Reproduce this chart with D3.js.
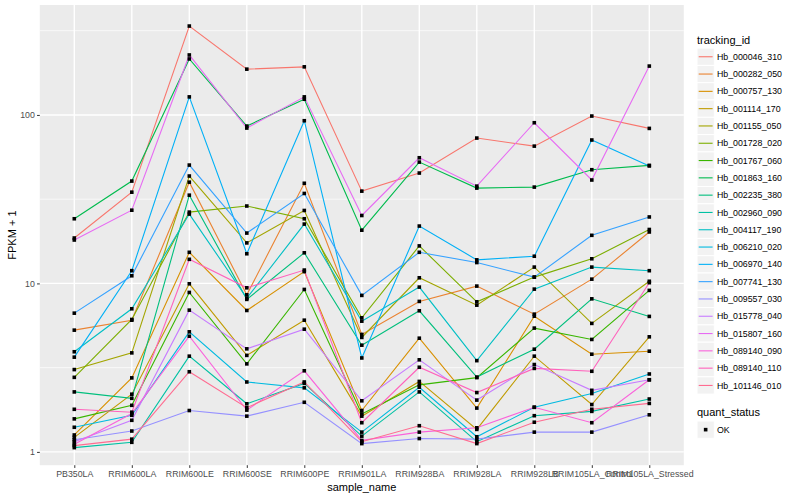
<!DOCTYPE html>
<html>
<head>
<meta charset="utf-8">
<script src="https://cdn.jsdelivr.net/npm/d3@7"></script>
<style>
  html, body { margin: 0; padding: 0; background: #ffffff; }
  svg { display: block; font-family: "Liberation Sans", Arial, Helvetica, sans-serif; }
</style>
</head>
<body>
<svg id="chart" width="800" height="500"></svg>
<script>
// ---------------- data ----------------
const categories = ["PB350LA","RRIM600LA","RRIM600LE","RRIM600SE","RRIM600PE","RRIM901LA",
  "RRIM928BA","RRIM928LA","RRIM928LB","RRIM105LA_Control","RRIM105LA_Stressed"];

const trackingIds = ["Hb_000046_310","Hb_000282_050","Hb_000757_130","Hb_001114_170","Hb_001155_050",
  "Hb_001728_020","Hb_001767_060","Hb_001863_160","Hb_002235_380","Hb_002960_090","Hb_004117_190",
  "Hb_006210_020","Hb_006970_140","Hb_007741_130","Hb_009557_030","Hb_015778_040","Hb_015807_160",
  "Hb_089140_090","Hb_089140_110","Hb_101146_010"];

const hb_000046_310 = [18.6, 34.8, 337, 187, 193, 35.3, 45.2, 72.9, 65.3, 98.5, 83.2];
const hb_000282_050 = [5.28, 6.05, 39.9, 8.56, 39.3, 4.98, 7.82, 9.64, 6.57, 10.6, 20.2];
const hb_000757_130 = [1.26, 2.75, 15.3, 6.91, 11.75, 1.76, 4.73, 1.82, 6.39, 3.80, 3.96];
const hb_001114_170 = [1.22, 2.20, 9.95, 3.74, 6.05, 1.63, 2.62, 1.36, 3.70, 1.91, 4.82];
const hb_001155_050 = [3.08, 3.87, 43.4, 17.4, 27.1, 4.78, 10.8, 7.43, 12.5, 5.79, 10.3];
const hb_001728_020 = [2.77, 6.11, 26.5, 28.8, 24.2, 6.25, 16.7, 7.78, 10.9, 14.0, 20.9];
const hb_001767_060 = [1.57, 1.89, 8.84, 3.33, 9.21, 1.68, 2.50, 2.76, 5.43, 4.65, 9.09];
const hb_001863_160 = [24.2, 40.5, 215, 85.9, 124, 20.7, 52.5, 36.8, 37.3, 47.3, 50.2];
const hb_002235_380 = [2.27, 2.08, 33.4, 8.04, 15.2, 4.30, 6.88, 2.78, 4.07, 8.10, 6.37];
const hb_002960_090 = [1.06, 1.14, 3.70, 1.93, 2.55, 1.24, 2.27, 1.15, 1.64, 1.74, 2.06];
const hb_004117_190 = [3.93, 7.07, 25.8, 8.18, 22.5, 5.97, 9.51, 3.48, 9.25, 12.5, 11.9];
const hb_006210_020 = [1.40, 1.65, 5.16, 2.60, 2.40, 1.31, 2.42, 1.23, 1.84, 2.22, 2.90];
const hb_006970_140 = [3.65, 11.9, 128, 15.0, 92.4, 3.61, 21.9, 13.8, 14.5, 71.0, 49.8];
const hb_007741_130 = [6.66, 11.1, 50.4, 19.9, 34.2, 8.49, 15.3, 13.3, 10.9, 19.3, 24.8];
const hb_009557_030 = [1.18, 1.33, 1.76, 1.63, 1.97, 1.12, 1.20, 1.19, 1.31, 1.31, 1.66];
const hb_015778_040 = [1.15, 1.54, 6.94, 4.09, 5.35, 2.01, 3.52, 2.03, 3.30, 2.32, 2.68];
const hb_015807_160 = [18.1, 27.2, 227, 83.6, 128, 25.3, 55.7, 37.8, 89.9, 41.1, 195];
const hb_089140_090 = [1.11, 1.69, 4.86, 1.77, 3.03, 1.17, 1.31, 1.39, 1.84, 1.49, 2.68];
const hb_089140_110 = [1.79, 1.72, 13.9, 9.42, 12.0, 1.49, 3.18, 2.25, 3.13, 3.01, 10.1];
const hb_101146_010 = [1.09, 1.19, 2.99, 1.83, 2.60, 1.15, 1.43, 1.12, 1.50, 1.79, 1.94];

const seriesValues = [hb_000046_310, hb_000282_050, hb_000757_130, hb_001114_170, hb_001155_050,
  hb_001728_020, hb_001767_060, hb_001863_160, hb_002235_380, hb_002960_090, hb_004117_190,
  hb_006210_020, hb_006970_140, hb_007741_130, hb_009557_030, hb_015778_040, hb_015807_160,
  hb_089140_090, hb_089140_110, hb_101146_010];

const quantStatus = ["OK"];
const yTicks = [1, 10, 100];
const yMinorTicks = [3.1623, 31.623, 316.23];

// ggplot2 default hue palette for 20 levels
const palette = ["#F8766D","#EA8331","#D89000","#C09B00","#A3A500","#7CAE00","#39B600","#00BB4E",
  "#00BF7D","#00C1A3","#00BFC4","#00BAE0","#00B0F6","#35A2FF","#9590FF","#C77CFF","#E76BF3",
  "#FA62DB","#FF62BC","#FF6C91"];

// ---------------- layout ----------------
const panel = { left: 39.8, right: 683.8, top: 5, bottom: 465.2 };
const svg = d3.select("#chart");

const x = d3.scalePoint().domain(categories).range([panel.left, panel.right]).padding(0.6);
const y = d3.scaleLog().domain([Math.pow(10, -0.079), Math.pow(10, 2.6526)])
  .range([panel.bottom, panel.top]);

const color = d3.scaleOrdinal().domain(trackingIds).range(palette);

// panel background
svg.append("rect").attr("x", panel.left).attr("y", panel.top)
  .attr("width", panel.right - panel.left).attr("height", panel.bottom - panel.top)
  .attr("fill", "#EBEBEB");

const grid = svg.append("g");
grid.selectAll(".minor").data(yMinorTicks).join("line")
  .attr("x1", panel.left).attr("x2", panel.right)
  .attr("y1", d => y(d)).attr("y2", d => y(d))
  .attr("stroke", "#ffffff").attr("stroke-width", 0.7);
grid.selectAll(".major").data(yTicks).join("line")
  .attr("x1", panel.left).attr("x2", panel.right)
  .attr("y1", d => y(d)).attr("y2", d => y(d))
  .attr("stroke", "#ffffff").attr("stroke-width", 1.4);
grid.selectAll(".vmajor").data(categories).join("line")
  .attr("x1", d => x(d)).attr("x2", d => x(d))
  .attr("y1", panel.top).attr("y2", panel.bottom)
  .attr("stroke", "#ffffff").attr("stroke-width", 1.4);

// axes
const xAxis = d3.axisBottom(x).tickSize(2.75).tickPadding(2.5);
const gx = svg.append("g").attr("transform", `translate(0,${panel.bottom})`).call(xAxis);
gx.select(".domain").remove();
gx.selectAll(".tick line").attr("stroke", "#333333").attr("stroke-width", 1);
gx.selectAll(".tick text").attr("fill", "#4D4D4D").attr("font-size", 8.8)
  .attr("font-family", "Liberation Sans, Arial, sans-serif");

const yAxis = d3.axisLeft(y).tickValues(yTicks).tickFormat(d3.format("d")).tickSize(2.75).tickPadding(2.2);
const gy = svg.append("g").attr("transform", `translate(${panel.left},0)`).call(yAxis);
gy.select(".domain").remove();
gy.selectAll(".tick line").attr("stroke", "#333333").attr("stroke-width", 1);
gy.selectAll(".tick text").attr("fill", "#4D4D4D").attr("font-size", 8.8)
  .attr("font-family", "Liberation Sans, Arial, sans-serif");

// axis titles
svg.append("text").attr("x", (panel.left + panel.right) / 2).attr("y", 491)
  .attr("text-anchor", "middle").attr("font-size", 11).attr("fill", "#000")
  .text("sample_name");
svg.append("text")
  .attr("transform", `translate(15.5,${(panel.top + panel.bottom) / 2}) rotate(-90)`)
  .attr("text-anchor", "middle").attr("font-size", 11).attr("fill", "#000")
  .text("FPKM + 1");

// lines
const series = trackingIds.map((id, i) => ({
  id, values: categories.map((c, j) => ({ cat: c, v: seriesValues[i][j] }))
}));
const line = d3.line().x(d => x(d.cat)).y(d => y(d.v));
svg.append("g").selectAll("path").data(series).join("path")
  .attr("d", d => line(d.values))
  .attr("fill", "none")
  .attr("stroke", d => color(d.id))
  .attr("stroke-width", 1.1);

// points (square, quant_status = OK)
const pts = series.flatMap(s => s.values);
const ps = 3.6;
svg.append("g").selectAll("rect").data(pts).join("rect")
  .attr("x", d => x(d.cat) - ps / 2).attr("y", d => y(d.v) - ps / 2)
  .attr("width", ps).attr("height", ps).attr("fill", "#000");

// legend: tracking_id
const lg = svg.append("g");
const lgX = 697, keyW = 17.3, keyH = 17.3, firstTop = 48.1;
lg.append("text").attr("x", lgX).attr("y", 44).attr("font-size", 11).attr("fill", "#000")
  .text("tracking_id");
trackingIds.forEach((id, i) => {
  const top = firstTop + i * keyH;
  lg.append("rect").attr("x", lgX).attr("y", top).attr("width", keyW).attr("height", keyH)
    .attr("fill", "#F2F2F2").attr("stroke", "#ffffff").attr("stroke-width", 1);
  lg.append("line").attr("x1", lgX + 1.7).attr("x2", lgX + keyW - 1.7)
    .attr("y1", top + keyH / 2).attr("y2", top + keyH / 2)
    .attr("stroke", color(id)).attr("stroke-width", 1.1);
  lg.append("text").attr("x", lgX + keyW + 2.6).attr("y", top + keyH / 2)
    .attr("dy", "0.35em").attr("font-size", 8.8).attr("fill", "#000").text(id);
});

// legend: quant_status
const q0 = 416;
lg.append("text").attr("x", lgX).attr("y", q0).attr("font-size", 11).attr("fill", "#000")
  .text("quant_status");
quantStatus.forEach((s, i) => {
  const top = 421 + i * keyH;
  lg.append("rect").attr("x", lgX).attr("y", top).attr("width", keyW).attr("height", keyH)
    .attr("fill", "#F2F2F2").attr("stroke", "#ffffff").attr("stroke-width", 1);
  lg.append("rect").attr("x", lgX + keyW / 2 - ps / 2).attr("y", top + keyH / 2 - ps / 2)
    .attr("width", ps).attr("height", ps).attr("fill", "#000");
  lg.append("text").attr("x", lgX + keyW + 2.6).attr("y", top + keyH / 2)
    .attr("dy", "0.35em").attr("font-size", 8.8).attr("fill", "#000").text(s);
});
</script>
</body>
</html>
